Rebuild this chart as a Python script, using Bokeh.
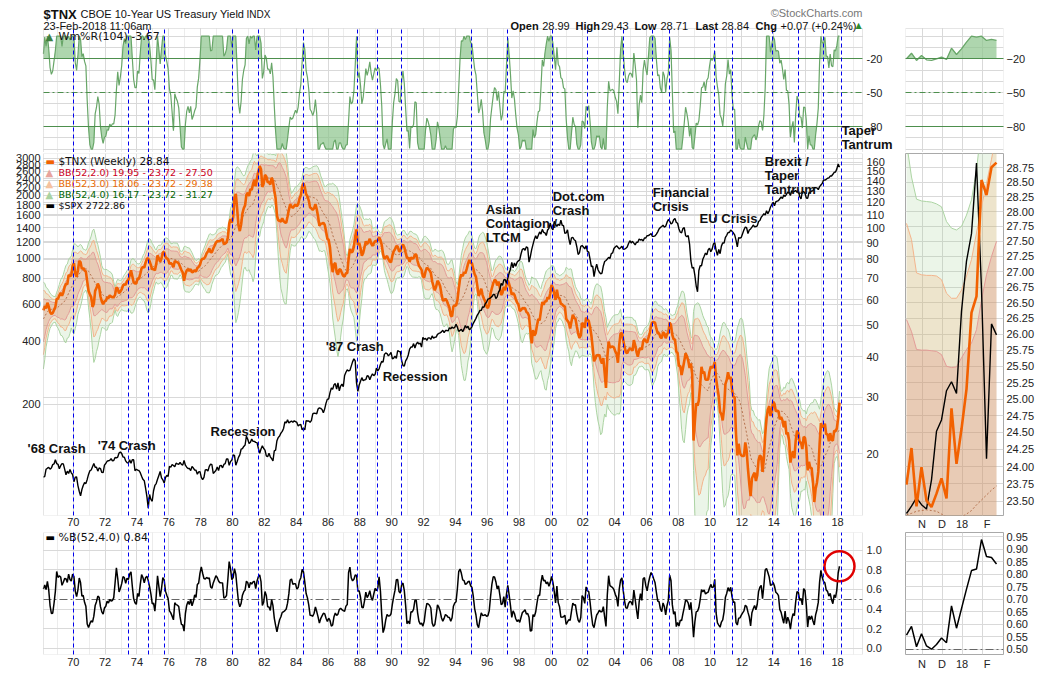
import numpy as np
import pandas as pd
from bokeh.plotting import figure
from bokeh.models import (Range1d, FixedTicker, Label, LogScale, Grid, BoxAnnotation,
                          PrintfTickFormatter)
from bokeh.core.properties import value
from bokeh.layouts import row, column
from bokeh.embed import file_html
from bokeh.resources import INLINE

# ---------------------------------------------------------------- data
# $TNX (10-yr yield x10), monthly, Jan 1966 .. Feb 2018
tnx_1966_69 = [46.1, 48.3, 48.7, 47.5, 47.8, 48.1, 50.2, 52.2, 51.8, 50.1, 51.6, 48.4,
               45.8, 46.3, 45.4, 45.9, 48.5, 50.2, 51.6, 52.8, 53.0, 54.8, 57.5, 57.0,
               55.3, 55.6, 57.4, 56.4, 58.7, 57.2, 55.0, 54.2, 54.6, 55.8, 57.0, 60.3,
               60.4, 61.9, 63.0, 61.7, 63.2, 65.7, 67.2, 66.9, 71.6, 71.0, 71.4, 76.5]
tnx_1970s = [77.9, 72.4, 70.7, 73.9, 79.1, 78.4, 74.6, 75.3, 73.9, 73.3, 68.4, 63.9,
             62.4, 61.1, 57.0, 58.3, 63.9, 65.2, 67.3, 65.8, 61.4, 59.3, 58.1, 59.3,
             59.5, 60.8, 60.7, 61.9, 61.3, 61.1, 61.1, 62.1, 65.5, 64.8, 62.8, 63.6,
             64.6, 66.4, 67.1, 66.7, 68.5, 69.0, 71.3, 74.0, 70.9, 67.9, 67.3, 67.4,
             69.9, 69.6, 72.1, 75.1, 75.8, 75.4, 78.1, 80.4, 80.4, 79.0, 76.8, 74.3,
             75.0, 73.9, 77.3, 82.3, 80.6, 78.6, 80.6, 84.0, 84.3, 81.4, 80.5, 80.0,
             77.4, 77.9, 77.3, 75.6, 79.0, 78.6, 78.3, 77.7, 75.9, 74.1, 72.9, 68.7,
             72.1, 73.9, 74.6, 73.7, 74.6, 72.8, 73.3, 74.0, 73.4, 75.2, 75.8, 76.9,
             79.6, 80.3, 80.4, 81.5, 83.5, 84.6, 86.4, 84.1, 84.2, 86.4, 88.1, 90.1,
             91.0, 91.0, 91.2, 91.8, 92.5, 89.1, 89.5, 90.3, 93.3, 103.0, 106.5, 103.9]
tnx_1980s = [108.0, 124.1, 127.5, 114.7, 101.8, 97.8, 102.5, 111.0, 115.1, 117.5, 126.8, 128.4,
             125.7, 131.9, 131.2, 136.8, 141.0, 134.7, 142.8, 149.4, 155.5, 152.0, 133.9, 137.2,
             145.9, 144.3, 138.6, 138.7, 136.2, 143.0, 139.5, 130.6, 123.4, 109.1, 105.5, 105.4,
             104.6, 107.2, 105.1, 104.0, 103.8, 108.5, 113.8, 118.5, 116.5, 115.4, 116.9, 118.3,
             116.7, 118.4, 123.2, 126.3, 134.1, 137.5, 133.6, 127.2, 125.2, 121.6, 115.7, 115.0,
             113.8, 115.1, 118.6, 114.3, 108.5, 101.6, 103.1, 103.3, 103.7, 102.4, 97.8, 92.6,
             91.9, 87.0, 77.8, 73.0, 77.1, 78.0, 73.0, 71.7, 74.5, 74.3, 72.5, 71.1,
             70.8, 72.5, 72.5, 80.2, 86.1, 84.0, 84.5, 87.6, 94.2, 99.0, 88.6, 89.9,
             86.7, 82.1, 83.7, 87.2, 90.9, 89.2, 90.6, 92.6, 89.8, 88.0, 89.6, 91.1,
             90.9, 91.7, 93.6, 91.8, 88.6, 82.8, 80.2, 81.1, 81.9, 80.1, 78.7, 78.4]
tnx_1990s = [82.1, 84.7, 85.9, 87.9, 87.6, 84.8, 84.7, 87.5, 88.9, 87.2, 83.9, 80.8,
             80.9, 78.5, 81.1, 80.4, 80.7, 82.8, 82.7, 79.0, 76.5, 75.3, 74.2, 70.9,
             70.3, 73.4, 75.4, 74.8, 73.9, 72.6, 68.4, 65.9, 64.2, 65.9, 68.7, 67.7,
             66.0, 62.6, 59.8, 59.7, 60.4, 59.6, 58.1, 56.8, 53.6, 53.3, 57.2, 57.7,
             57.5, 59.7, 64.8, 69.7, 71.8, 71.0, 73.0, 72.4, 74.6, 77.4, 79.6, 78.1,
             77.8, 74.7, 72.0, 70.6, 66.3, 61.7, 62.8, 64.9, 62.0, 60.4, 59.3, 57.1,
             56.5, 58.1, 62.7, 65.1, 67.4, 69.1, 68.7, 66.4, 68.3, 65.3, 62.0, 63.0,
             65.8, 64.2, 66.9, 68.9, 67.1, 64.9, 62.2, 63.0, 62.1, 60.3, 58.8, 58.1,
             55.4, 55.7, 56.5, 56.4, 56.5, 55.0, 54.6, 53.4, 48.1, 44.0, 48.3, 46.5,
             47.2, 50.0, 52.3, 51.8, 55.4, 59.0, 57.9, 59.4, 59.2, 61.1, 60.3, 62.8]
tnx_2000s = [66.6, 65.2, 62.6, 59.9, 64.4, 61.0, 60.5, 58.3, 58.0, 57.4, 57.2, 52.4,
             51.6, 51.0, 48.9, 51.4, 53.9, 52.8, 52.4, 49.7, 47.3, 45.7, 46.5, 50.9,
             50.4, 49.1, 52.8, 52.1, 51.6, 49.3, 46.5, 42.6, 38.7, 39.4, 40.5, 40.3,
             40.5, 39.0, 38.1, 39.6, 35.7, 32.0, 39.8, 44.5, 42.7, 42.9, 43.0, 42.7,
             41.5, 40.8, 38.3, 43.5, 47.2, 47.3, 45.0, 42.8, 41.3, 41.0, 41.9, 42.3,
             42.2, 41.7, 45.0, 43.4, 41.4, 40.0, 41.8, 42.6, 42.0, 44.6, 45.4, 44.7,
             44.2, 45.7, 47.2, 49.9, 51.1, 51.1, 50.9, 48.8, 47.2, 47.3, 46.0, 45.6,
             47.6, 47.2, 45.6, 46.9, 47.5, 51.0, 50.0, 46.7, 45.2, 45.3, 41.5, 41.0,
             37.4, 37.4, 35.1, 36.8, 38.8, 41.0, 40.1, 38.9, 36.9, 38.1, 35.3, 22.0,
             25.2, 28.7, 28.2, 29.3, 32.9, 37.2, 35.6, 35.9, 34.0, 33.9, 34.0, 35.9]
tnx_2010s = [37.3, 36.9, 37.3, 38.5, 34.2, 32.0, 30.1, 27.0, 26.5, 25.4, 27.6, 32.9,
             33.9, 35.8, 34.1, 34.6, 31.7, 30.0, 30.0, 23.0, 19.8, 21.5, 20.1, 19.8,
             19.7, 19.7, 21.7, 20.5, 18.0, 16.2, 14.8, 16.8, 17.2, 17.5, 16.5, 17.2,
             19.1, 19.8, 19.6, 17.6, 19.3, 23.0, 25.8, 27.4, 28.1, 26.2, 27.2, 29.0,
             28.6, 27.1, 27.2, 27.1, 25.6, 26.0, 25.4, 24.2, 25.3, 23.0, 23.3, 22.1,
             18.8, 19.8, 20.4, 19.4, 22.0, 23.6, 23.2, 21.7, 21.7, 20.7, 22.6, 22.4,
             20.9, 17.8, 18.9, 18.1, 18.1, 16.4, 14.2, 15.6, 16.3, 17.6, 21.4, 24.9,
             24.3, 24.2, 24.8, 23.0, 23.0, 21.9, 23.2, 22.1, 22.0, 23.6, 23.5, 24.0,
             25.8, 28.84]

# $SPX monthly closes, Jan 1968 .. Feb 2018
spx_1968_69 = [92.24, 89.36, 90.20, 97.59, 98.68, 99.58, 97.74, 98.86, 102.67, 103.41, 108.37, 103.86,
               103.01, 98.13, 101.51, 103.69, 103.46, 97.71, 91.83, 95.51, 93.12, 97.24, 93.81, 92.06]
spx_1970s = [85.02, 89.50, 89.63, 81.52, 76.55, 72.72, 78.05, 81.52, 84.21, 83.25, 87.20, 92.15,
             95.88, 96.75, 100.31, 103.95, 99.63, 99.70, 95.58, 99.03, 98.34, 94.23, 93.99, 102.09,
             103.94, 106.57, 107.20, 107.67, 109.53, 107.14, 107.39, 111.09, 110.55, 111.58, 116.67, 118.05,
             116.03, 111.68, 111.52, 106.97, 104.95, 104.26, 108.22, 104.25, 108.43, 108.29, 95.96, 97.55,
             96.57, 96.22, 93.98, 90.31, 87.28, 86.00, 79.31, 72.15, 63.54, 73.90, 69.97, 68.56,
             76.98, 81.59, 83.36, 87.30, 91.15, 95.19, 88.75, 86.88, 83.87, 89.04, 91.24, 90.19,
             100.86, 99.71, 102.77, 101.64, 100.18, 104.28, 103.44, 102.91, 105.24, 102.90, 102.10, 107.46,
             102.03, 99.82, 98.42, 98.44, 96.12, 100.48, 98.85, 96.77, 96.53, 92.34, 94.83, 95.10,
             89.25, 87.04, 89.21, 96.83, 97.24, 95.53, 100.68, 103.29, 102.54, 93.15, 94.70, 96.11,
             99.93, 96.28, 101.59, 101.76, 99.08, 102.91, 103.81, 109.32, 109.32, 101.82, 106.16, 107.94]
spx_1980s = [114.16, 113.66, 102.09, 106.29, 111.24, 114.24, 121.67, 122.38, 125.46, 127.47, 140.52, 135.76,
             129.55, 131.27, 136.00, 132.81, 132.59, 131.21, 130.92, 122.79, 116.18, 121.89, 126.35, 122.55,
             120.40, 113.11, 111.96, 116.44, 111.88, 109.61, 107.09, 119.51, 120.42, 133.71, 138.54, 140.64,
             145.30, 148.06, 152.96, 164.42, 162.39, 168.11, 162.56, 164.40, 166.07, 163.55, 166.40, 164.93,
             163.41, 157.06, 159.18, 160.05, 150.55, 153.18, 150.66, 166.68, 166.10, 166.09, 163.58, 167.24,
             179.63, 181.18, 180.66, 179.83, 189.55, 191.85, 190.92, 188.63, 182.08, 189.82, 202.17, 211.28,
             211.78, 226.92, 238.90, 235.52, 247.35, 250.84, 236.12, 252.93, 231.32, 243.98, 249.22, 242.17,
             274.08, 284.20, 291.70, 288.36, 290.10, 304.00, 318.66, 329.80, 321.83, 251.79, 230.30, 247.08,
             257.07, 267.82, 258.89, 261.33, 262.16, 273.50, 272.02, 261.52, 271.91, 278.97, 273.70, 277.72,
             297.47, 288.86, 294.87, 309.64, 320.52, 317.98, 346.08, 351.45, 349.15, 340.36, 345.99, 353.40]
spx_1990s = [329.08, 331.89, 339.94, 330.80, 361.23, 358.02, 356.15, 322.56, 306.05, 304.00, 322.22, 330.22,
             343.93, 367.07, 375.22, 375.35, 389.83, 371.16, 387.81, 395.43, 387.86, 392.46, 375.22, 417.09,
             408.79, 412.70, 403.69, 414.95, 415.35, 408.14, 424.21, 414.03, 417.80, 418.68, 431.35, 435.71,
             438.78, 443.38, 451.67, 440.19, 450.19, 450.53, 448.13, 463.56, 458.93, 467.83, 461.79, 466.45,
             481.61, 467.14, 445.77, 450.91, 456.50, 444.27, 458.26, 475.49, 462.69, 472.35, 453.69, 459.27,
             470.42, 487.39, 500.71, 514.71, 533.40, 544.75, 562.06, 561.88, 584.41, 581.50, 605.37, 615.93,
             636.02, 640.43, 645.50, 654.17, 669.12, 670.63, 639.95, 651.99, 687.31, 705.27, 757.02, 740.74,
             786.16, 790.82, 757.12, 801.34, 848.28, 885.14, 954.29, 899.47, 947.28, 914.62, 955.40, 970.43,
             980.28, 1049.34, 1101.75, 1111.75, 1090.82, 1133.84, 1120.67, 957.28, 1017.01, 1098.67, 1163.63, 1229.23,
             1279.64, 1238.33, 1286.37, 1335.18, 1301.84, 1372.71, 1328.72, 1320.41, 1282.71, 1362.93, 1388.91, 1469.25]
spx_2000s = [1394.46, 1366.42, 1498.58, 1452.43, 1420.60, 1454.60, 1430.83, 1517.68, 1436.51, 1429.40, 1314.95, 1320.28,
             1366.01, 1239.94, 1160.33, 1249.46, 1255.82, 1224.38, 1211.23, 1133.58, 1040.94, 1059.78, 1139.45, 1148.08,
             1130.20, 1106.73, 1147.39, 1076.92, 1067.14, 989.82, 911.62, 916.07, 815.28, 885.76, 936.31, 879.82,
             855.70, 841.15, 848.18, 916.92, 963.59, 974.50, 990.31, 1008.01, 995.97, 1050.71, 1058.20, 1111.92,
             1131.13, 1144.94, 1126.21, 1107.30, 1120.68, 1140.84, 1101.72, 1104.24, 1114.58, 1130.20, 1173.82, 1211.92,
             1181.27, 1203.60, 1180.59, 1156.85, 1191.50, 1191.33, 1234.18, 1220.33, 1228.81, 1207.01, 1249.48, 1248.29,
             1280.08, 1280.66, 1294.83, 1310.61, 1270.09, 1270.20, 1276.66, 1303.82, 1335.85, 1377.94, 1400.63, 1418.30,
             1438.24, 1406.82, 1420.86, 1482.37, 1530.62, 1503.35, 1455.27, 1473.99, 1526.75, 1549.38, 1481.14, 1468.36,
             1378.55, 1330.63, 1322.70, 1385.59, 1400.38, 1280.00, 1267.38, 1282.83, 1166.36, 968.75, 896.24, 903.25,
             825.88, 735.09, 690.00, 872.81, 919.14, 919.32, 987.48, 1020.62, 1057.08, 1036.19, 1095.63, 1115.10]
spx_2010s = [1073.87, 1104.49, 1169.43, 1186.69, 1089.41, 1030.71, 1101.60, 1049.33, 1141.20, 1183.26, 1180.55, 1257.64,
             1286.12, 1327.22, 1325.83, 1363.61, 1345.20, 1320.64, 1292.28, 1218.89, 1131.42, 1253.30, 1246.96, 1257.60,
             1312.41, 1365.68, 1408.47, 1397.91, 1310.33, 1362.16, 1379.32, 1406.58, 1440.67, 1412.16, 1416.18, 1426.19,
             1498.11, 1514.68, 1569.19, 1597.57, 1630.74, 1606.28, 1685.73, 1632.97, 1681.55, 1756.54, 1805.81, 1848.36,
             1782.59, 1859.45, 1872.34, 1883.95, 1923.57, 1960.23, 1930.67, 2003.37, 1972.29, 2018.05, 2067.56, 2058.90,
             1994.99, 2104.50, 2067.89, 2085.51, 2107.39, 2063.11, 2103.84, 1972.18, 1920.03, 2079.36, 2080.41, 2043.94,
             1940.24, 1932.23, 2059.74, 2065.30, 2096.95, 2098.86, 2173.60, 2170.95, 2168.27, 2126.15, 2198.81, 2238.83,
             2278.87, 2363.64, 2362.72, 2384.20, 2411.80, 2423.41, 2470.30, 2471.65, 2519.36, 2575.26, 2584.84, 2673.61,
             2823.81, 2722.86]

# blue dashed marker lines (decimal years)
event_years = [1970.0, 1973.49, 1974.71, 1975.75, 1979.99, 1981.66, 1984.48, 1987.88, 1989.13,
               1990.64, 1995.0, 1997.26, 2000.09, 2002.29, 2004.55, 2006.41, 2007.44, 2010.30,
               2011.39, 2013.91, 2015.58, 2017.09, 2018.26]

# annotation text: (lines, year, SPX level at the top of the first line)
event_labels = [(["'68 Crash"], 1967.13, 133.3),
                (["'74 Crash"], 1971.53, 137.8),
                (["Recession"], 1978.62, 160.5),
                (["'87 Crash"], 1985.85, 408.0),
                (["Recession"], 1989.43, 293.6),
                (["Asian", "Contagion /", "LTCM"], 1995.90, 1856.0),
                (["Dot.com", "Crash"], 2000.11, 2137.0),
                (["Financial", "Crisis"], 2006.39, 2234.0),
                (["EU Crisis"], 2009.34, 1678.0),
                (["Brexit /", "Taper", "Tantrum"], 2013.43, 3150.0)]
taper_label = (["Taper", "Tantrum"], 2018.26, -76.5)

year_ticks = list(range(1970, 2019, 2))
odd_years = list(range(1969, 2020, 2))
spx_ticks = [200, 400, 600, 800, 1000, 1200, 1400, 1600, 1800, 2000, 2200, 2400, 2600, 2800, 3000]
tnx_ticks = [20, 30, 40, 50, 60, 70, 80, 90, 100, 110, 120, 130, 140, 150, 160]
wr_ticks = [-80, -50, -20]
wr_grid = list(range(-100, 1, 10))
pctb_ticks = [0.0, 0.2, 0.4, 0.6, 0.8, 1.0]

# right-hand zoom panels: last 19 weekly bars (Oct 20 2017 .. Feb 23 2018)
recent_month_labels = {3.1: "N", 7.1: "D", 11.1: "18", 16.1: "F"}
recent_tnx = [23.74, 24.27, 23.43, 23.99, 23.51, 23.42, 23.61, 23.83, 23.54, 24.86,
              24.04, 24.55, 25.15, 26.34, 26.60, 28.54, 28.28, 28.76, 28.84]
recent_spx = [2575.21, 2581.07, 2587.84, 2582.30, 2578.85, 2602.42, 2642.22, 2651.50, 2675.81, 2683.34,
              2673.61, 2743.15, 2786.24, 2810.30, 2872.87, 2762.13, 2619.55, 2732.22, 2722.86]
recent_bb_mid = [23.31, 23.33, 23.36, 23.37, 23.38, 23.37, 23.36, 23.32, 23.28, 23.26,
                 23.26, 23.28, 23.32, 23.37, 23.45, 23.52, 23.59, 23.66, 23.72]
recent_bb2_up = [26.23, 26.04, 25.76, 25.75, 25.75, 25.74, 25.73, 25.68, 25.50, 25.48,
                 25.49, 25.63, 25.76, 25.86, 26.07, 26.54, 26.95, 27.25, 27.50]
recent_bb3_up = [27.80, 27.53, 26.98, 26.95, 26.94, 26.94, 26.93, 26.87, 26.65, 26.57,
                 26.57, 26.70, 26.93, 27.20, 27.64, 28.08, 28.48, 28.90, 29.38]
recent_bb4_up = [29.20, 28.59, 28.21, 28.18, 28.17, 28.16, 28.13, 28.08, 27.83, 27.72,
                 27.69, 27.75, 27.94, 28.20, 28.71, 29.50, 30.00, 30.60, 31.27]
recent_wr = [-20.0, -15.1, -21.5, -17.1, -20.9, -21.5, -20.0, -18.6, -20.6, -10.6,
             -16.2, -11.2, -5.3, 0.0, -0.9, 0.0, -3.8, -2.9, -3.67]
recent_pctb = [0.556, 0.591, 0.510, 0.562, 0.513, 0.500, 0.519, 0.545, 0.526, 0.673,
               0.584, 0.662, 0.740, 0.814, 0.820, 0.938, 0.870, 0.866, 0.840]

# ---------------------------------------------------------------- derived indicators
tnx_all = np.array(tnx_1966_69 + tnx_1970s + tnx_1980s + tnx_1990s + tnx_2000s + tnx_2010s, dtype=float)
t_all = 1966 + (np.arange(len(tnx_all)) + 0.5) / 12.0
ser = pd.Series(tnx_all)
mid_all = ser.rolling(12, min_periods=2).mean().to_numpy()
sd_all = ser.rolling(12, min_periods=2).std(ddof=0).to_numpy()
hh = ser.rolling(24, min_periods=1).max().to_numpy()
ll = ser.rolling(24, min_periods=1).min().to_numpy()
span_hl = np.where(hh - ll > 0, hh - ll, 1.0)
wr_all = (hh - tnx_all) / span_hl * -100.0
pctb_all = (tnx_all - (mid_all - 4 * sd_all)) / (8 * sd_all)

k0 = 25  # Feb 1968 = left edge of the chart
t = t_all[k0:]
tnx = tnx_all[k0:]
mid = mid_all[k0:]
sd = sd_all[k0:]
wr = wr_all[k0:]
pctb = pctb_all[k0:]
spx = np.array(spx_1968_69 + spx_1970s + spx_1980s + spx_1990s + spx_2000s + spx_2010s,
               dtype=float)[k0 - 24:]
bands = {k: (np.clip(mid - k * sd, 1.0, None), mid + k * sd) for k in (2, 3, 4)}

rx = np.arange(len(recent_tnx))
r_mid = np.array(recent_bb_mid)

# ---------------------------------------------------------------- geometry / style
FONT = "Liberation Sans"
LEG = "DejaVu Sans"
LEFT_W, RIGHT_W = 895, 150
H_TOP, H_MAIN, H_BOT = 152, 380, 140
BOX_L, BOX_R = 1968.13, 2019.57          # chart box, in years
BOX_PX_L, BOX_PX_R = 43, 862             # chart box, in page pixels
PXY = (BOX_PX_R - BOX_PX_L) / (BOX_R - BOX_L)
X0 = BOX_L - BOX_PX_L / PXY
X1 = BOX_R + (LEFT_W - BOX_PX_R) / PXY
WR_LO, WR_HI = -103.0, 6.8
WR_TOP_PX = 28
WR_PXU = (H_TOP - WR_TOP_PX) / (WR_HI - WR_LO)
WR_Y1 = WR_HI + WR_TOP_PX / WR_PXU
TNX_LO, TNX_HI = 12.9, 170.0
SPX_LO, SPX_HI = 58.6, 3168.0
PB_LO, PB_HI = -0.063, 1.18
RX_LO, RX_HI = -0.2, 19.4

GRID_C = "#d9d9d9"
GRID_C2 = "#ececec"
BOX_C = "#a9a9a9"
BAND_FILL = {4: ("#9ccc8c", 0.20), 3: ("#f5a060", 0.20), 2: ("#d86a5a", 0.20)}
BAND_LINE = {4: "#acd4a3", 3: "#f3b48c", 2: "#e39c98"}
ORANGE = "#f26100"
WR_LINE = "#68a668"
WR_FILL = "#8cc48c"
LVL_GREEN = "#4d8f4d"


def style_axis(ax):
    ax.axis_line_color = None
    ax.major_tick_line_color = None
    ax.minor_tick_line_color = None
    ax.major_tick_out = 0
    ax.major_tick_in = 0
    ax.minor_tick_out = 0
    ax.minor_tick_in = 0
    ax.major_label_text_font = FONT
    ax.major_label_text_font_size = "11px"
    ax.major_label_text_color = "#222222"
    ax.major_label_standoff = 3


def make_fig(width, height, x_range, y_range, left, right, top, bottom, xaxis, yaxis,
             outline, **kw):
    p = figure(width=width, height=height, x_range=x_range, y_range=y_range,
               x_axis_location="below" if xaxis else None,
               y_axis_location="right" if yaxis else None,
               toolbar_location=None, output_backend="svg",
               min_border_left=left, min_border_right=right,
               min_border_top=top, min_border_bottom=bottom, **kw)
    p.grid.visible = False
    p.outline_line_color = BOX_C if outline else None
    p.background_fill_color = "white"
    p.border_fill_color = "white"
    for ax in p.axis:
        style_axis(ax)
    return p


def add_grid(p, dim, ticks, color=GRID_C, **kw):
    p.add_layout(Grid(dimension=dim, ticker=FixedTicker(ticks=ticks),
                      grid_line_color=color, grid_line_width=1, **kw))


def add_events(p, **kw):
    add_grid(p, 0, event_years, "#0000ee", grid_line_dash="4 3", level="annotation", **kw)


def add_box(p, left, right, bottom, top):
    p.add_layout(BoxAnnotation(left=left, right=right, bottom=bottom, top=top,
                               fill_color=None, line_color=BOX_C, line_width=1))


def add_label(p, text, x, y, size="11px", color="#111111", bold=False, align="left",
              baseline="alphabetic", font=FONT, units="screen", **kw):
    p.add_layout(Label(x=x, y=y, x_units=units, y_units=units, text=text,
                       text_font=font, text_font_size=size, text_color=color,
                       text_font_style="bold" if bold else "normal",
                       text_align=align, text_baseline=baseline, **kw))


def tick_text(p, ticks, fmt, side, **kw):
    xs = [BOX_R if side == "right" else BOX_L] * len(ticks)
    p.text(x=xs, y=ticks, text=[fmt % v for v in ticks],
           x_offset=4 if side == "right" else -3,
           text_align="left" if side == "right" else "right", text_baseline="middle",
           text_font=value(FONT), text_font_size="11px", text_color="#222222", **kw)


x_rng = Range1d(X0, X1)
rx_rng = Range1d(RX_LO, RX_HI)

# ---------------------------------------------------------------- top-left: header + Wm%R
p_top = make_fig(LEFT_W, H_TOP, x_rng, Range1d(WR_LO, WR_Y1), 0, 0, 0, 0, False, False, False)
wr_box = (WR_LO, WR_HI)
add_grid(p_top, 0, odd_years, GRID_C2, cross_bounds=wr_box)
add_grid(p_top, 0, year_ticks, cross_bounds=wr_box)
add_grid(p_top, 1, wr_grid, cross_bounds=(BOX_L, BOX_R))
p_top.varea(x=t, y1=-20, y2=np.maximum(wr, -20), fill_color=WR_FILL, fill_alpha=0.7)
p_top.varea(x=t, y1=np.minimum(wr, -80), y2=-80, fill_color=WR_FILL, fill_alpha=0.7)
p_top.line(t, wr, line_color=WR_LINE, line_width=1.2)
add_grid(p_top, 1, [-80, -20], LVL_GREEN, cross_bounds=(BOX_L, BOX_R), level="annotation")
add_grid(p_top, 1, [-50], LVL_GREEN, grid_line_dash="6 3 2 3", cross_bounds=(BOX_L, BOX_R),
         level="annotation")
add_events(p_top, cross_bounds=wr_box)
add_box(p_top, BOX_L, BOX_R, WR_LO, WR_HI)
tick_text(p_top, wr_ticks, "%d", "right")
add_label(p_top, "▲", 45, 116, size="10px", color="#3f7f3f", font=LEG, baseline="middle")
add_label(p_top, "Wm%R(104) -3.67", 58, 116, size="11px", font=LEG, baseline="middle")
for i, line in enumerate(taper_label[0]):
    add_label(p_top, line, taper_label[1], taper_label[2], size="13px", bold=True,
              baseline="top", units="data", y_offset=-14 * i)

# header (screen units: x from left, y up from bottom of the 152-px canvas)
add_label(p_top, "$TNX", 43, 138.5, size="13px", bold=True)
add_label(p_top, "CBOE 10-Year US Treasury Yield", 80, 138.5, size="11px")
add_label(p_top, "INDX", 246, 138.5, size="10px")
add_label(p_top, "23-Feb-2018 11:06am", 43, 126.5, size="11px")
add_label(p_top, "©StockCharts.com", 862, 140, size="11px", color="#777777", align="right")
header_parts = [("Open", 510, True), ("28.99", 541.7, False), ("High", 575, True),
                ("29.43", 600.7, False), ("Low", 634, True), ("28.71", 660, False),
                ("Last", 695, True), ("28.84", 721, False), ("Chg", 755, True),
                ("+0.07 (+0.24%)", 780, False)]
for txt, xx, b in header_parts:
    add_label(p_top, txt, xx, 126.5, size="11px", bold=b)
add_label(p_top, "▲", 855, 127, size="8px", color="#2e8b2e", font=LEG)

# ---------------------------------------------------------------- main-left
p_main = make_fig(LEFT_W, H_MAIN, x_rng, Range1d(TNX_LO, TNX_HI), 0, 0, 1, 15, True, False,
                  False, y_axis_type="log")
p_main.extra_y_ranges = {"spx": Range1d(SPX_LO, SPX_HI)}
p_main.extra_y_scales = {"spx": LogScale()}
p_main.xaxis.ticker = FixedTicker(ticks=year_ticks)
p_main.xaxis.major_label_overrides = {y: f"{y % 100:02d}" for y in year_ticks}
p_main.xaxis.major_label_standoff = 2
add_grid(p_main, 0, odd_years, GRID_C2)
add_grid(p_main, 0, year_ticks)
add_grid(p_main, 1, tnx_ticks, cross_bounds=(BOX_L, BOX_R))
add_grid(p_main, 1, spx_ticks, y_range_name="spx", cross_bounds=(BOX_L, BOX_R))

for k in (4, 3, 2):
    lo, up = bands[k]
    col, al = BAND_FILL[k]
    p_main.varea(x=t, y1=lo, y2=up, fill_color=col, fill_alpha=al)
for k in (4, 3, 2):
    lo, up = bands[k]
    p_main.line(t, up, line_color=BAND_LINE[k], line_width=1)
    p_main.line(t, lo, line_color=BAND_LINE[k], line_width=1)
p_main.line(t, mid, line_color="#b5734f", line_dash="2 2", line_width=1)
p_main.line(t, tnx, line_color=ORANGE, line_width=2.6)
p_main.line(t, spx, line_color="black", line_width=1.4, y_range_name="spx")
add_events(p_main)
add_box(p_main, BOX_L, BOX_R, TNX_LO, TNX_HI)
tick_text(p_main, tnx_ticks, "%d", "right")
tick_text(p_main, spx_ticks, "%d", "left", y_range_name="spx")

main_legend = [("▬", ORANGE, "$TNX (Weekly) 28.84", "#111111", "10.5px"),
               ("▲", "#e8a39c", "BB(52,2.0) 19.95 - 23.72 - 27.50", "#cc0022", "9.5px"),
               ("▲", "#f6c29e", "BB(52,3.0) 18.06 - 23.72 - 29.38", "#e86a00", "9.5px"),
               ("▲", "#a9d2a0", "BB(52,4.0) 16.17 - 23.72 - 31.27", "#006400", "9.5px"),
               ("▬", "#000000", "$SPX 2722.86", "#111111", "9.5px")]
for i, (icon, icol, txt, tcol, fs) in enumerate(main_legend):
    yy = 354.5 - 11 * i
    add_label(p_main, icon, 45, yy, size="10px", color=icol, font=LEG, baseline="middle")
    add_label(p_main, txt, 58, yy, size=fs, color=tcol, font=LEG, baseline="middle")

for lines, yr, lvl in event_labels:
    for i, line in enumerate(lines):
        add_label(p_main, line, yr, lvl, size="13px", bold=True, baseline="top",
                  units="data", y_range_name="spx", y_offset=-14 * i)

# ---------------------------------------------------------------- bottom-left: %B
p_bot = make_fig(LEFT_W, H_BOT, x_rng, Range1d(PB_LO, PB_HI), 0, 0, 0, 15, True, False, False)
p_bot.xaxis.ticker = FixedTicker(ticks=year_ticks)
p_bot.xaxis.major_label_overrides = {y: f"{y % 100:02d}" for y in year_ticks}
p_bot.xaxis.major_label_standoff = 3
add_grid(p_bot, 0, odd_years, GRID_C2)
add_grid(p_bot, 0, year_ticks)
add_grid(p_bot, 1, pctb_ticks, cross_bounds=(BOX_L, BOX_R))
add_grid(p_bot, 1, [0.5], "#666666", grid_line_dash="8 3 2 3", cross_bounds=(BOX_L, BOX_R))
p_bot.line(t, pctb, line_color="black", line_width=1.5)
add_events(p_bot)
add_box(p_bot, BOX_L, BOX_R, PB_LO, PB_HI)
tick_text(p_bot, pctb_ticks, "%.1f", "right")
p_bot.scatter([t[-1]], [pctb[-1]], marker="circle", size=30, fill_color=None,
              line_color="#e00000", line_width=2.5)
add_label(p_bot, "▬", 45, 117, size="10px", color="#000000", font=LEG, baseline="middle")
add_label(p_bot, "%B(52,4.0) 0.84", 58, 117, size="11px", font=LEG, baseline="middle")

# ---------------------------------------------------------------- right panels
r_grid_x = [3.1, 7.1, 11.1, 15.1]

p_top_r = make_fig(RIGHT_W, H_TOP, rx_rng, Range1d(WR_LO, WR_Y1), 10, 42, 0, 0, False, True, False)
p_top_r.yaxis.ticker = FixedTicker(ticks=wr_ticks)
add_grid(p_top_r, 0, r_grid_x, cross_bounds=wr_box)
add_grid(p_top_r, 1, wr_grid)
p_top_r.varea(x=rx, y1=-20, y2=np.maximum(recent_wr, -20), fill_color=WR_FILL, fill_alpha=0.7)
p_top_r.line(rx, recent_wr, line_color=WR_LINE, line_width=1.3)
add_grid(p_top_r, 1, [-80, -20], LVL_GREEN, level="annotation")
add_grid(p_top_r, 1, [-50], LVL_GREEN, grid_line_dash="6 3 2 3", level="annotation")
add_box(p_top_r, RX_LO, RX_HI, WR_LO, WR_HI)

p_main_r = make_fig(RIGHT_W, H_MAIN, rx_rng, Range1d(23.30, 29.00), 10, 42, 1, 15, True, True,
                    True, y_axis_type="log")
p_main_r.extra_y_ranges = {"spx": Range1d(2573.6, 2881.5)}
p_main_r.extra_y_scales = {"spx": LogScale()}
r_ticks = [round(23.5 + 0.25 * i, 2) for i in range(22)]
p_main_r.yaxis.ticker = FixedTicker(ticks=r_ticks)
p_main_r.yaxis.formatter = PrintfTickFormatter(format="%.2f")
p_main_r.xaxis.ticker = FixedTicker(ticks=list(recent_month_labels))
p_main_r.xaxis.major_label_overrides = recent_month_labels
p_main_r.xaxis.major_label_standoff = 2
add_grid(p_main_r, 0, r_grid_x)
add_grid(p_main_r, 1, r_ticks)
for k, up in ((4, recent_bb4_up), (3, recent_bb3_up), (2, recent_bb2_up)):
    up = np.array(up)
    col, al = BAND_FILL[k]
    p_main_r.varea(x=rx, y1=2 * r_mid - up, y2=up, fill_color=col, fill_alpha=al)
for k, up in ((4, recent_bb4_up), (3, recent_bb3_up), (2, recent_bb2_up)):
    p_main_r.line(rx, up, line_color=BAND_LINE[k], line_width=1)
p_main_r.line(rx, recent_bb_mid, line_color="#b5734f", line_dash="2 2", line_width=1)
p_main_r.line(rx, recent_spx, line_color="black", line_width=1.4, y_range_name="spx")
p_main_r.line(rx, recent_tnx, line_color=ORANGE, line_width=2.6)

p_bot_r = make_fig(RIGHT_W, H_BOT, rx_rng, Range1d(0.479, 0.966), 10, 42, 0, 15, True, True, True)
rb_ticks = [round(0.5 + 0.05 * i, 2) for i in range(10)]
p_bot_r.yaxis.ticker = FixedTicker(ticks=rb_ticks)
p_bot_r.yaxis.formatter = PrintfTickFormatter(format="%.2f")
p_bot_r.xaxis.ticker = FixedTicker(ticks=list(recent_month_labels))
p_bot_r.xaxis.major_label_overrides = recent_month_labels
add_grid(p_bot_r, 0, r_grid_x)
add_grid(p_bot_r, 1, rb_ticks)
add_grid(p_bot_r, 1, [0.5], "#666666", grid_line_dash="8 3 2 3")
p_bot_r.line(rx, recent_pctb, line_color="black", line_width=1.5)

layout = column(row(p_top, p_top_r), row(p_main, p_main_r), row(p_bot, p_bot_r))

with open("out.html", "w") as f:
    f.write(file_html(layout, INLINE, "TNX"))
